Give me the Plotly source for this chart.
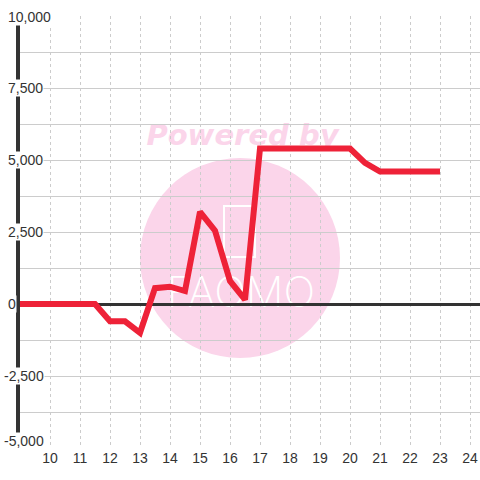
import plotly.graph_objects as go

# data
x_vals = [9, 9.5, 10, 10.5, 11, 11.5, 12, 12.5, 13, 13.5, 14, 14.5, 15, 15.5, 16, 16.5,
          17, 17.5, 18, 18.5, 19, 19.5, 20, 20.5, 21, 21.5, 22, 22.5, 23]
y_vals = [0, 0, 0, 0, 0, 0, -600, -600, -1000, 550, 600, 450, 3200, 2550, 800, 150,
          5400, 5400, 5400, 5400, 5400, 5400, 5400, 4900, 4600, 4600, 4600, 4600, 4600]
x_ticks = list(range(10, 25))
y_ticks = [10000, 7500, 5000, 2500, 0, -2500, -5000]
y_tick_labels = ["10,000", "7,500", "5,000", "2,500", "0", "-2,500", "-5,000"]

W, H = 480, 480
L, R, T, B = 20, 0, 16, 32
pw, ph = W - L - R, H - T - B

def px_x(p):
    return (p - L) / pw

def px_y(p):
    return (H - B - p) / ph

fig = go.Figure()
fig.add_trace(go.Scatter(x=x_vals, y=y_vals, mode="lines",
                         line=dict(color="#ee2238", width=6), hoverinfo="skip"))

FONT = "Liberation Sans, Arial, sans-serif"
annotations = []
for v, t in zip(y_ticks, y_tick_labels):
    left = 3 if v < 0 else 7
    annotations.append(dict(x=px_x(left), xref="paper", y=v, yref="y", text=t,
                            showarrow=False, xanchor="left", yanchor="middle",
                            bgcolor="white", borderpad=0,
                            yshift=7 if v == min(y_ticks) else (-1 if v == max(y_ticks) else 0),
                            font=dict(size=14, color="#333333", family=FONT)))

shapes = [
    dict(type="circle", xref="paper", yref="paper", layer="below",
         x0=px_x(140), x1=px_x(340), y0=px_y(358), y1=px_y(158),
         fillcolor="#fbd5ea", line=dict(width=0)),
    dict(type="rect", xref="paper", yref="paper", layer="below",
         x0=px_x(224), x1=px_x(255), y0=px_y(257), y1=px_y(206),
         fillcolor="rgba(0,0,0,0)", line=dict(color="white", width=2)),
    dict(type="rect", xref="paper", yref="paper", layer="below",
         x0=px_x(172), x1=px_x(310), y0=px_y(308), y1=px_y(272),
         fillcolor="rgba(0,0,0,0)", line=dict(width=0),
         label=dict(text="FAOMO", textposition="middle center",
                    font=dict(size=42, color="white", family="Inter", weight=200))),
    dict(type="rect", xref="paper", yref="paper", layer="below",
         x0=px_x(140), x1=px_x(345), y0=px_y(150), y1=px_y(116),
         fillcolor="rgba(0,0,0,0)", line=dict(width=0),
         label=dict(text="<b><i>Powered by</i></b>", textposition="middle center",
                    font=dict(size=29, color="#fbd5ea", family="DejaVu Sans"))),
]

fig.update_layout(
    width=W, height=H, margin=dict(l=L, r=R, t=T, b=B, autoexpand=False),
    paper_bgcolor="white", plot_bgcolor="rgba(0,0,0,0)",
    showlegend=False, annotations=annotations, shapes=shapes,
    xaxis=dict(range=[9, 9 + pw / 30], tickvals=x_ticks, showgrid=True,
               gridcolor="#cccccc", griddash="3px,3px", gridwidth=1,
               zeroline=False, showline=False, ticks="", automargin=False,
               tickfont=dict(size=14, color="#333333", family=FONT)),
    yaxis=dict(range=[-5000, 10000], dtick=1250, tick0=0, showticklabels=False,
               showgrid=True, gridcolor="#cccccc", gridwidth=1, automargin=False,
               zeroline=True, zerolinecolor="#333333", zerolinewidth=3,
               showline=True, linecolor="#333333", linewidth=4, ticks=""),
)
fig.write_html("out.html", config={"displayModeBar": False},
               post_script="document.body.style.margin='0';")
